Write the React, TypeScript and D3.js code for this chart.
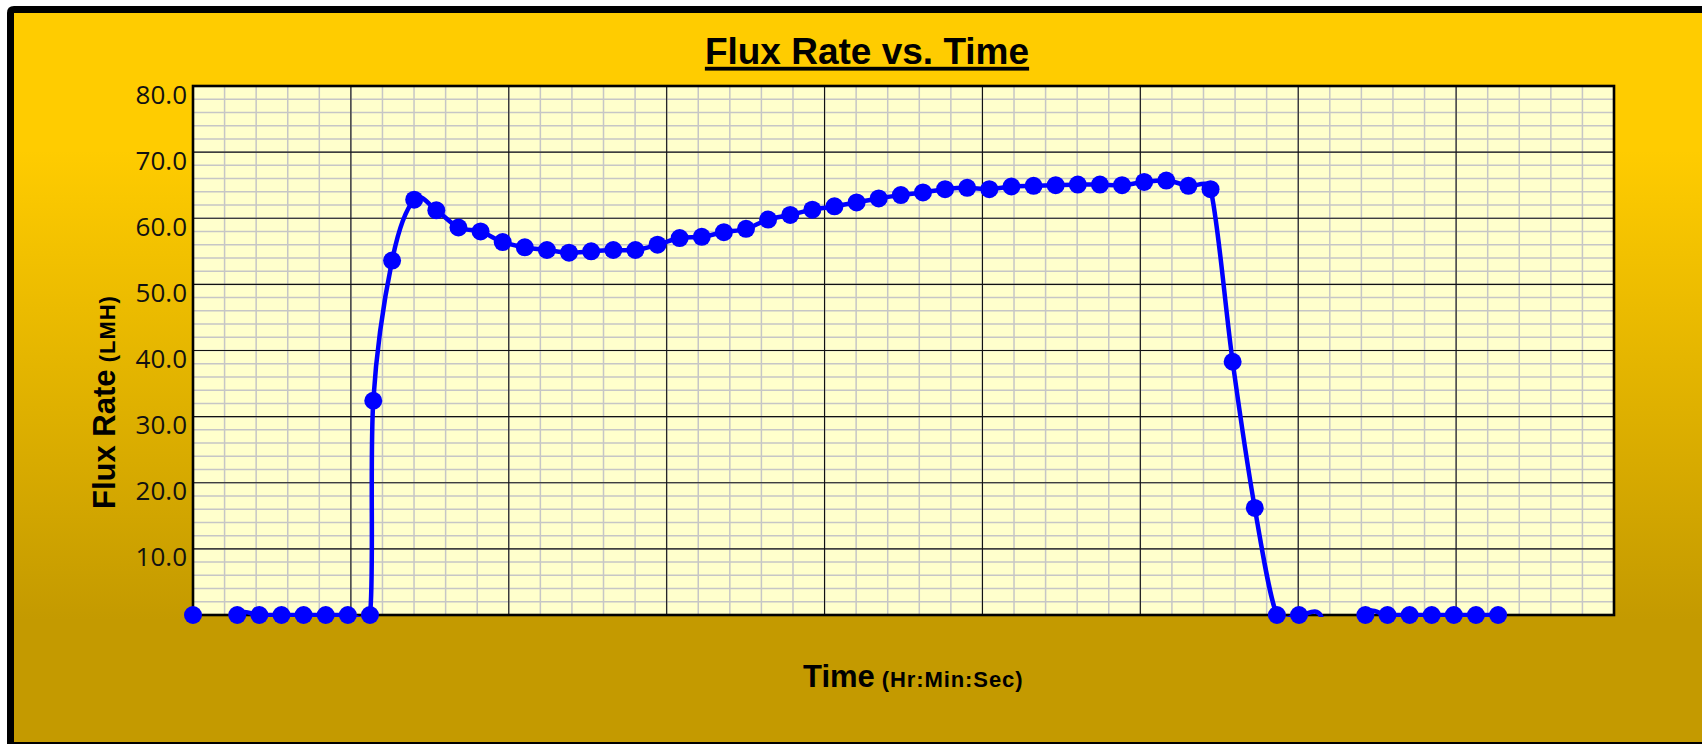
import React, { useEffect, useLayoutEffect, useRef, useState } from "react";
import * as d3 from "d3";

const W = 1702;
const H = 744;

// sample times (minutes from start of log); one extra reading right after pump start
const times = [
  0, 1, 2, 3, 4, 5, 6, 7, 8, 8.15, 9, 10, 11, 12, 13, 14, 15, 16, 17, 18, 19,
  20, 21, 22, 23, 24, 25, 26, 27, 28, 29, 30, 31, 32, 33, 34, 35, 36, 37, 38,
  39, 40, 41, 42, 43, 44, 45, 46, 47, 48, 49, 50, 51, 52, 53, 54, 55, 56, 57,
  58, 59,
];

// flux readings (LMH); negative readings fall below the axis and are only
// seen through the clipped smoothed line
const flux = [
  0, -6, 0, 0, 0, 0, 0, 0, 0, 32.4, 53.6, 62.8, 61.2, 58.6, 58.0, 56.4, 55.6,
  55.2, 54.8, 55.0, 55.2, 55.2, 56.0, 57.0, 57.2, 57.9, 58.4, 59.8, 60.5, 61.3,
  61.8, 62.4, 63.0, 63.5, 63.9, 64.4, 64.6, 64.4, 64.8, 64.9, 65.0, 65.1, 65.1,
  65.0, 65.5, 65.7, 64.9, 64.4, 38.3, 16.2, 0, 0, -0.2, -15, 0, 0, 0, 0, 0, 0,
  0,
];

const yTicks = [10, 20, 30, 40, 50, 60, 70, 80];
const xMax = 64.24; // end of time axis (minutes)
const xMajorCount = 9;

const plot = { left: 193, right: 1614, top: 86, bottom: 615 };

// spreadsheet-style smoothed line: Catmull-Rom bezier whose handles are
// limited to half of the segment length (keeps flat runs from overshooting)
function smoothPath(pts: [number, number][], k = 0.5) {
  const p = d3.path();
  p.moveTo(pts[0][0], pts[0][1]);
  for (let i = 0; i < pts.length - 1; i++) {
    const p0 = pts[Math.max(i - 1, 0)];
    const p1 = pts[i];
    const p2 = pts[i + 1];
    const p3 = pts[Math.min(i + 2, pts.length - 1)];
    const chord = Math.hypot(p2[0] - p1[0], p2[1] - p1[1]);
    const lim = (vx: number, vy: number) => {
      const l = Math.hypot(vx, vy);
      const s = l > k * chord ? (k * chord) / l : 1;
      return [vx * s, vy * s];
    };
    const [ax, ay] = lim((p2[0] - p0[0]) / 6, (p2[1] - p0[1]) / 6);
    const [bx, by] = lim((p3[0] - p1[0]) / 6, (p3[1] - p1[1]) / 6);
    p.bezierCurveTo(p1[0] + ax, p1[1] + ay, p2[0] - bx, p2[1] - by, p2[0], p2[1]);
  }
  return p.toString();
}

export default function App() {
  const titleRef = useRef<SVGTextElement>(null);
  const [titleW, setTitleW] = useState(326);

  useEffect(() => {
    document.body.style.margin = "0";
    document.body.style.overflow = "hidden";
  }, []);

  useLayoutEffect(() => {
    if (titleRef.current) setTitleW(titleRef.current.getComputedTextLength());
  }, []);

  const x = d3.scaleLinear().domain([0, xMax]).range([plot.left, plot.right]);
  const y = d3.scaleLinear().domain([0, 80]).range([plot.bottom, plot.top]);

  const xMinor = d3.range(0, xMajorCount * 5 + 1).map((i) => (i * xMax) / (xMajorCount * 5));
  const xMajor = d3.range(0, xMajorCount + 1).map((i) => (i * xMax) / xMajorCount);
  const yMinor = d3.range(0, 81, 2);
  const yMajor = d3.range(0, 81, 10);

  const pts = flux.map((v, i) => [x(times[i]), y(v)] as [number, number]);

  const titleCx = 867;
  const font = "'Liberation Sans', Arial, sans-serif";

  return (
    <svg
      width={W}
      height={H}
      style={{ position: "absolute", left: 0, top: 0, display: "block", background: "#fff" }}
    >
      <defs>
        <linearGradient id="gold" gradientUnits="userSpaceOnUse" x1="0" y1="150" x2="0" y2="620">
          <stop offset="0" stopColor="#FFCC00" />
          <stop offset="1" stopColor="#C49A00" />
        </linearGradient>
        <clipPath id="plotClip">
          <rect x={plot.left} y={plot.top - 2} width={plot.right - plot.left} height={plot.bottom - plot.top + 4} />
        </clipPath>
      </defs>

      {/* chart frame (runs off the right edge) */}
      <rect x={10.5} y={9.5} width={1780} height={736} fill="url(#gold)" />
      <path
        d="M1800,9.5 H14 Q10.5,9.5 10.5,13 V745.5 H1800"
        fill="none"
        stroke="#000"
        strokeWidth={7}
      />

      {/* title */}
      <text
        ref={titleRef}
        x={titleCx}
        y={64}
        textAnchor="middle"
        fontFamily={font}
        fontWeight="bold"
        fontSize={37}
        fill="#000"
      >
        Flux Rate vs. Time
      </text>
      <rect x={titleCx - titleW / 2} y={66.8} width={titleW} height={3.8} fill="#000" />

      {/* plot area */}
      <rect x={plot.left} y={plot.top} width={plot.right - plot.left} height={plot.bottom - plot.top} fill="#FFFFCC" />
      <g stroke="#C6C6C6" strokeWidth={1.5}>
        {xMinor.map((t, i) => (
          <line key={"xm" + i} x1={x(t)} x2={x(t)} y1={plot.top} y2={plot.bottom} />
        ))}
        {yMinor.map((v) => (
          <line key={"ym" + v} x1={plot.left} x2={plot.right} y1={y(v)} y2={y(v)} />
        ))}
      </g>
      <g stroke="#111" strokeWidth={1.1}>
        {xMajor.map((t, i) => (
          <line key={"xM" + i} x1={x(t)} x2={x(t)} y1={plot.top} y2={plot.bottom} />
        ))}
        {yMajor.map((v) => (
          <line key={"yM" + v} x1={plot.left} x2={plot.right} y1={y(v)} y2={y(v)} />
        ))}
      </g>
      <rect
        x={plot.left}
        y={plot.top}
        width={plot.right - plot.left}
        height={plot.bottom - plot.top}
        fill="none"
        stroke="#000"
        strokeWidth={2.6}
      />

      {/* y tick labels */}
      <g fontFamily="'Open Sans', sans-serif" fontSize={26} fill="#111" textAnchor="end">
        {yTicks.map((v) => (
          <text key={v} x={plot.left - 6} y={y(v) + 17.5}>
            {v.toFixed(1)}
          </text>
        ))}
      </g>

      {/* axis titles */}
      <text transform="translate(115,509) rotate(-90)" fontFamily={font} fontWeight="bold" fill="#000">
        <tspan fontSize={31}>Flux Rate</tspan>
        <tspan fontSize={22} letterSpacing={1}> (LMH)</tspan>
      </text>
      <text x={803} y={687} fontFamily={font} fontWeight="bold" fill="#000">
        <tspan fontSize={31}>Time</tspan>
        <tspan fontSize={22} letterSpacing={0.9}> (Hr:Min:Sec)</tspan>
      </text>

      {/* series */}
      <path
        d={smoothPath(pts)}
        fill="none"
        stroke="#0000FF"
        strokeWidth={4.5}
        strokeLinejoin="round"
        clipPath="url(#plotClip)"
      />
      <g fill="#0000FF">
        {flux.map((v, i) =>
          v >= 0 ? <circle key={i} cx={x(times[i])} cy={y(v)} r={9} /> : null
        )}
      </g>
    </svg>
  );
}
